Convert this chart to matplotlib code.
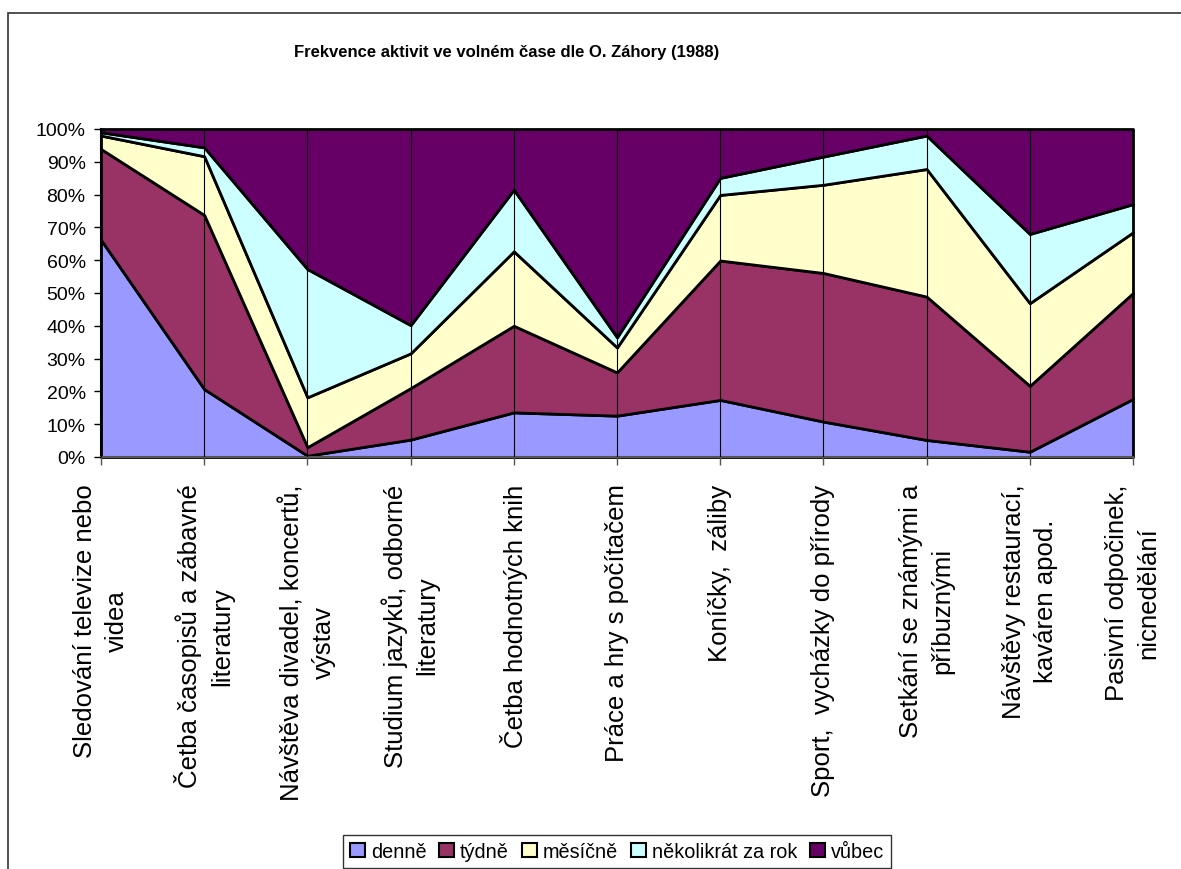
import matplotlib
matplotlib.use("Agg")
import matplotlib.pyplot as plt
from matplotlib.patches import Patch, Rectangle
import numpy as np

plt.rcParams['font.family'] = ['Liberation Sans', 'DejaVu Sans']

categories = [
    "Sledování televize nebo\nvidea",
    "Četba časopisů a zábavné\nliteratury",
    "Návštěva divadel, koncertů,\nvýstav",
    "Studium jazyků, odborné\nliteratury",
    "Četba hodnotných knih",
    "Práce a hry s počítačem",
    "Koníčky,  záliby",
    "Sport,  vycházky do přírody",
    "Setkání se známými a\npříbuznými",
    "Návštěvy restaurací,\nkaváren apod.",
    "Pasivní odpočinek,\nnicnedělání",
]
series_names = ["denně", "týdně", "měsíčně", "několikrát za rok", "vůbec"]
denne      = [66.2, 20.7, 0.4, 5.3, 13.6, 12.6, 17.4, 10.8, 5.2, 1.6, 17.7]
tydne      = [27.7, 53.1, 2.6, 15.7, 26.4, 13.2, 42.5, 45.3, 43.7, 20.1, 32.3]
mesicne    = [4.1, 17.9, 15.2, 10.6, 22.7, 7.6, 20.0, 26.9, 38.9, 25.2, 18.5]
nekolikrat = [1.0, 2.7, 39.1, 8.6, 18.8, 3.1, 5.2, 8.6, 10.2, 21.1, 8.6]
vubec      = [1.0, 5.6, 42.7, 59.8, 18.5, 63.5, 14.9, 8.4, 2.0, 32.0, 22.9]
yticks = [0, 10, 20, 30, 40, 50, 60, 70, 80, 90, 100]
colors = ["#9999FF", "#993366", "#FFFFCC", "#CCFFFF", "#660066"]

W, H = 1181, 870
fig = plt.figure(figsize=(W / 100, H / 100), dpi=100)
ax = fig.add_axes([101 / W, 1 - 458 / H, (1133 - 101) / W, (458 - 130) / H])

data = np.array([denne, tydne, mesicne, nekolikrat, vubec], dtype=float)
pct = data / data.sum(axis=0) * 100
x = np.arange(len(categories))
polys = ax.stackplot(x, *pct, colors=colors, edgecolor="black", linewidth=2.0)
for p in polys:
    p.set_clip_on(False)

ax.set_xlim(0, len(categories) - 1)
ax.set_ylim(0, 100)
ax.set_yticks(yticks)
ax.set_yticklabels([f"{t}%" for t in yticks], fontsize=14)
ax.set_xticks(x)
ax.set_xticklabels(categories, rotation=90, fontsize=18.5, ha="center", va="top",
                   linespacing=1.39)
ax.tick_params(axis="y", direction="out", length=5, width=1, pad=6, color="black")
ax.tick_params(axis="x", direction="out", length=6, width=1, pad=13, color="#555555")

ax.set_axisbelow(False)
ax.grid(axis="x", color="black", linewidth=0.8)
ax.grid(axis="y", visible=False)
for s in ["top", "right"]:
    ax.spines[s].set_visible(False)
ax.spines["left"].set_color("black")
ax.spines["left"].set_linewidth(1.5)
ax.spines["bottom"].set_color("#555555")
ax.spines["bottom"].set_linewidth(1.5)

fig.text(507 / W, 1 - 53 / H, "Frekvence aktivit ve volném čase dle O. Záhory (1988)",
         ha="center", va="center", fontsize=12, fontweight="bold")

# outer chart frame
fig.patches.append(Rectangle((8 / W, -0.2), 2, 0.2 + (H - 14) / H, transform=fig.transFigure,
                             fill=False, edgecolor="#333333", linewidth=1.2))

handles = [Patch(facecolor=c, edgecolor="black", linewidth=1.5) for c in colors]
leg = fig.legend(handles, series_names, loc="upper left",
                 bbox_to_anchor=(343 / W, 1 - 836 / H), ncol=5, fontsize=14.3,
                 handlelength=0.75, handleheight=0.75, handletextpad=0.3,
                 columnspacing=0.65, frameon=True, fancybox=False,
                 borderaxespad=0, borderpad=0.35)
leg.get_frame().set_edgecolor("black")
leg.get_frame().set_linewidth(1)

fig.savefig("out.png", dpi=100)
